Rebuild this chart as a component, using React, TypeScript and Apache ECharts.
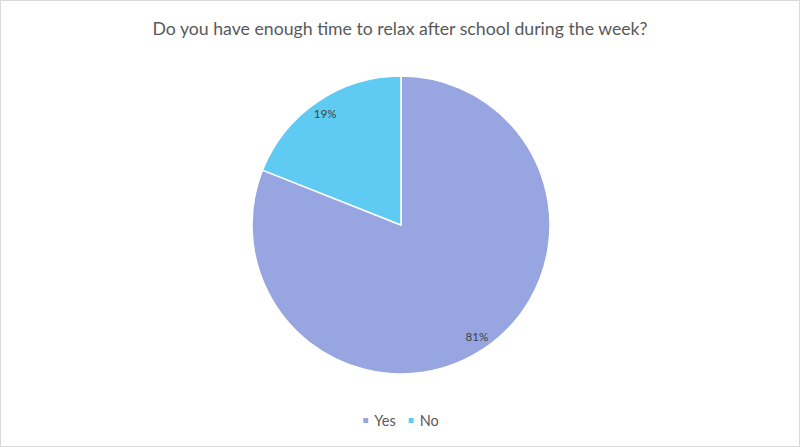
import React, { useEffect, useRef } from "react";
import * as echarts from "echarts";

const categories = ["Yes", "No"];
const values = [81, 19];
const colors = ["#97a6e0", "#5fcbf3"];
const titleText = "Do you have enough time to relax after school during the week?";

export default function App() {
  const ref = useRef<HTMLDivElement>(null);
  useEffect(() => {
    document.body.style.margin = "0";
    const chart = echarts.init(ref.current!, null, { renderer: "svg" });
    const data = categories.map((c, i) => ({ name: c, value: values[i], itemStyle: { color: colors[i] } }));
    chart.setOption({
      animation: false,
      title: {
        text: titleText,
        left: "center",
        top: 13,
        textStyle: { fontFamily: "Lato", fontSize: 17.7, fontWeight: "normal", color: "#595959" },
      },
      legend: {
        bottom: 13,
        left: "center",
        data: categories,
        icon: "rect",
        itemWidth: 7,
        itemHeight: 7,
        itemGap: 11,
        textStyle: { fontFamily: "Lato", fontSize: 14.5, color: "#595959" },
      },
      series: [
        {
          type: "pie",
          center: [400, 224],
          radius: [0, 149],
          startAngle: 90,
          clockwise: true,
          label: { show: false },
          labelLine: { show: false },
          itemStyle: { borderColor: "#ffffff", borderWidth: 1.5 },
          data,
        },
        {
          type: "pie",
          center: [400, 224],
          radius: [115, 149],
          startAngle: 90,
          clockwise: true,
          silent: true,
          legendHoverLink: false,
          itemStyle: { color: "rgba(0,0,0,0)", borderWidth: 0 },
          label: {
            show: true,
            position: "inside",
            formatter: "{d}%",
            fontFamily: "Lato",
            fontSize: 11.5,
            color: "#404040",
          },
          labelLine: { show: false },
          data: categories.map((c, i) => ({ name: c, value: values[i] })),
        },
      ],
    });
    return () => chart.dispose();
  }, []);
  return (
    <div
      style={{
        position: "fixed",
        left: 0,
        top: 0,
        width: 798,
        height: 445,
        border: "1px solid #d9d9d9",
        background: "#fff",
      }}
    >
      <div ref={ref} style={{ width: 798, height: 445 }} />
    </div>
  );
}
